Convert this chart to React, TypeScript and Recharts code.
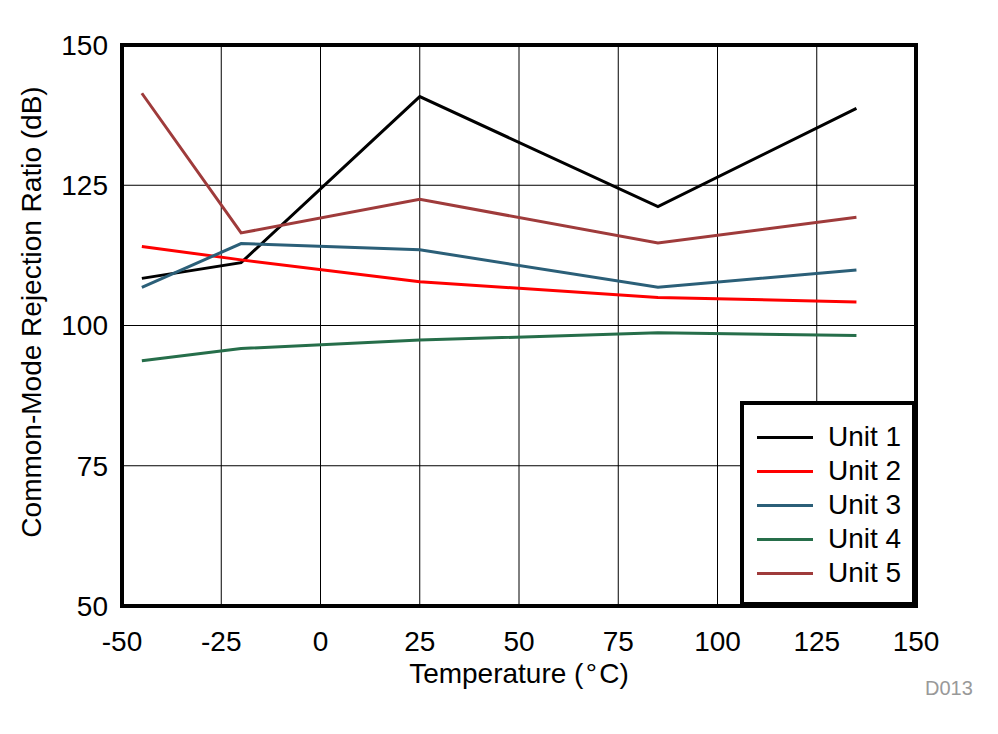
import {
  CartesianGrid,
  Legend,
  Line,
  LineChart,
  ReferenceArea,
  XAxis,
  YAxis,
} from "recharts";

const temps = [-45, -20, 25, 85, 135];
const unit1 = [108.4, 111.2, 140.8, 121.2, 138.7];
const unit2 = [114.1, 111.7, 107.8, 105.0, 104.2];
const unit3 = [106.8, 114.6, 113.5, 106.8, 109.9];
const unit4 = [93.7, 95.9, 97.4, 98.7, 98.2];
const unit5 = [141.4, 116.5, 122.5, 114.7, 119.3];

const xTicks = [-50, -25, 0, 25, 50, 75, 100, 125, 150];
const yTicks = [50, 75, 100, 125, 150];

const series = [
  { key: "u1", name: "Unit 1", color: "#000000", values: unit1 },
  { key: "u2", name: "Unit 2", color: "#ff0000", values: unit2 },
  { key: "u3", name: "Unit 3", color: "#2b5f78", values: unit3 },
  { key: "u4", name: "Unit 4", color: "#266e4a", values: unit4 },
  { key: "u5", name: "Unit 5", color: "#9f3b3b", values: unit5 },
];

const data = temps.map((t, i) => {
  const row: Record<string, number> = { temp: t };
  series.forEach((s) => (row[s.key] = s.values[i]));
  return row;
});

function LegendBox() {
  return (
    <div
      style={{
        width: 176,
        height: 205,
        boxSizing: "border-box",
        border: "4px solid #000",
        background: "#fff",
        paddingTop: 15,
      }}
    >
      {series.map((s) => (
        <div key={s.key} style={{ display: "flex", alignItems: "center", height: 34 }}>
          <span
            style={{
              display: "inline-block",
              width: 56,
              height: 3,
              marginLeft: 13,
              marginRight: 15,
              background: s.color,
            }}
          />
          <span style={{ fontSize: 28, color: "#000", lineHeight: "34px" }}>{s.name}</span>
        </div>
      ))}
    </div>
  );
}

export default function App() {
  return (
    <div
      style={{
        position: "absolute",
        left: 0,
        top: 0,
        width: 998,
        height: 734,
        background: "#fff",
        fontFamily: "'Liberation Sans', Arial, sans-serif",
      }}
    >
      <LineChart
        width={998}
        height={734}
        data={data}
        margin={{ top: 45, right: 82, bottom: 48, left: 0 }}
      >
        <CartesianGrid stroke="#000" strokeWidth={1} />
        <XAxis
          dataKey="temp"
          type="number"
          domain={[-50, 150]}
          ticks={xTicks}
          interval={0}
          height={80}
          tickLine={false}
          tickMargin={19}
          axisLine={false}
          tick={{ fill: "#000", fontSize: 28 }}
          label={(p: any) => (
            <text
              x={p.viewBox.x + p.viewBox.width / 2}
              y={p.viewBox.y + 77}
              textAnchor="middle"
              fontSize={28}
              fill="#000"
            >
              {"Temperature (\u200A°\u200AC)"}
            </text>
          )}
        />
        <YAxis
          type="number"
          domain={[50, 150]}
          ticks={yTicks}
          interval={0}
          width={122}
          tickLine={false}
          tickMargin={8}
          axisLine={false}
          tick={{ fill: "#000", fontSize: 28 }}
          label={() => (
            <text
              x={41}
              y={312}
              transform="rotate(-90 41 312)"
              textAnchor="middle"
              fontSize={28}
              fill="#000"
            >
              Common-Mode Rejection Ratio (dB)
            </text>
          )}
        />
        <ReferenceArea
          x1={-50}
          x2={150}
          y1={50}
          y2={150}
          fill="none"
          stroke="#000"
          strokeWidth={4}
          ifOverflow="visible"
        />
        {series.map((s) => (
          <Line
            key={s.key}
            dataKey={s.key}
            name={s.name}
            stroke={s.color}
            strokeWidth={3}
            dot={false}
            activeDot={false}
            isAnimationActive={false}
          />
        ))}
        <Legend
          layout="vertical"
          align="center"
          verticalAlign="middle"
          content={() => <LegendBox />}
          wrapperStyle={{ left: 740, top: 401, width: 176, height: 205 }}
        />
      </LineChart>
      <span
        style={{
          position: "absolute",
          left: 925,
          top: 677,
          fontSize: 20,
          color: "#999",
        }}
      >
        D013
      </span>
    </div>
  );
}
